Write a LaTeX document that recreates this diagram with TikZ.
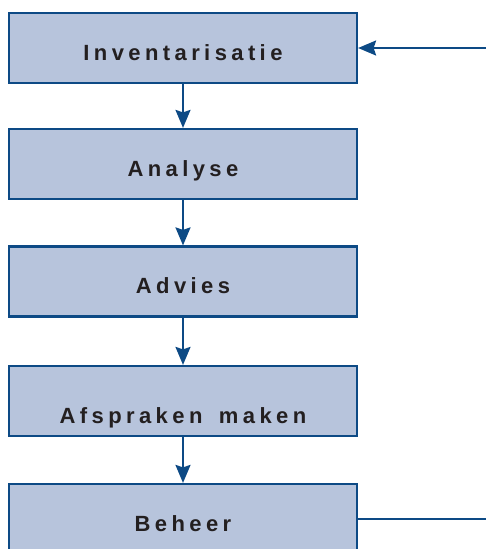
\documentclass[tikz,border=0pt]{standalone}
\usepackage{fontspec}
\usetikzlibrary{arrows.meta,positioning}
\newfontfamily\stapfont[LetterSpace=20]{Liberation Sans}
\definecolor{stapfill}{HTML}{B7C4DC}
\definecolor{stapline}{HTML}{0D4A85}
\definecolor{staptext}{HTML}{231F20}
\begin{document}
\begin{tikzpicture}[x=1pt,y=-1pt,>={Stealth[length=18pt,width=15pt,inset=2.5pt]},
    stap/.style={draw=stapline,fill=stapfill,line width=2.2pt,
      minimum width=348pt,minimum height=70pt,inner sep=0pt},
    lbl/.style={font=\stapfont\bfseries\fontsize{22}{26}\selectfont,
      text=staptext,inner sep=0pt,anchor=base},
    pijl/.style={draw=stapline,line width=2.2pt,->}
  ]
  \useasboundingbox (0,0) rectangle (486,549);

  % de stappen
  \node[stap] (inv) at (183,48) {};
  \node[stap] (ana) at (183,164) {};
  \node[stap] (adv) at (183,281.5) {};
  \node[stap] (afs) at (183,401) {};
  \node[stap] (beh) at (183,519) {};

  \node[lbl] (invt) at ([yshift=-12]inv.center) {Inventarisatie};
  \node[lbl] (anat) at ([yshift=-12]ana.center) {Analyse};
  \node[lbl] (advt) at ([yshift=-12]adv.center) {Advies};
  \node[lbl] (afst) at ([yshift=-22]afs.center) {Afspraken\hspace{6pt} maken};
  \node[lbl] (beht) at ([yshift=-12]beh.center) {Beheer};

  % pijlen
  \draw[pijl] (inv) -- (ana);
  \draw[pijl] (ana) -- (adv);
  \draw[pijl] (adv) -- (afs);
  \draw[pijl] (afs) -- (beh);

  \coordinate (in) at (486,48);
  \coordinate (uit) at (486,519);
  \draw[pijl] (in) -- (inv.east);
  \draw[draw=stapline,line width=2.2pt] (beh.east) -- (uit);
\end{tikzpicture}
\end{document}
